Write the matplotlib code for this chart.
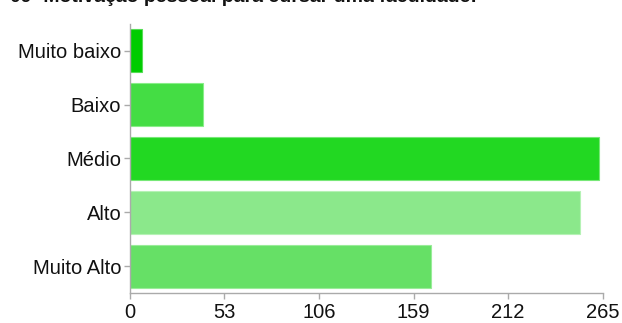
import matplotlib.pyplot as plt

plt.rcParams["font.family"] = ["Liberation Sans", "DejaVu Sans"]

# Data
categories = ["Muito baixo", "Baixo", "Médio", "Alto", "Muito Alto"]
counts = [7, 41, 263, 252, 169]
bar_colors = ["#00cc00", "#44dd44", "#22d822", "#8be88b", "#66e066"]
edge_colors = ["#55dd55", "#88ee88", "#77e877", "#b5f2b5", "#99ec99"]
x_ticks = [0, 53, 106, 159, 212, 265]
title = "09- Motivação pessoal para cursar uma faculdade:"

fig = plt.figure(figsize=(6.22, 3.23), dpi=100)
ax = fig.add_axes([0.2085, 0.093, 0.7605, 0.833])

ypos = list(range(len(categories)))
ax.barh(ypos, counts, height=0.8, color=bar_colors, edgecolor=edge_colors, linewidth=0.8)

ax.set_xlim(0, 265)
ax.set_ylim(len(categories) - 0.5, -0.5)
ax.set_yticks(ypos)
ax.set_yticklabels(categories)
ax.set_xticks(x_ticks)
ax.set_xticklabels([str(t) for t in x_ticks])

for side in ("top", "right"):
    ax.spines[side].set_visible(False)
for side in ("left", "bottom"):
    ax.spines[side].set_color("#aaaaaa")
    ax.spines[side].set_linewidth(1)

ax.tick_params(axis="both", colors="#aaaaaa", labelcolor="#111111", labelsize=14.5, length=4, width=1)
ax.tick_params(axis="y", pad=2)
ax.tick_params(axis="x", pad=3)

# title is partly clipped at the top edge, as in the original
fig.text(0.016, 1.008, title, fontsize=14, fontweight="bold", color="#111111", ha="left", va="center")

fig.savefig("out.png", dpi=100)
